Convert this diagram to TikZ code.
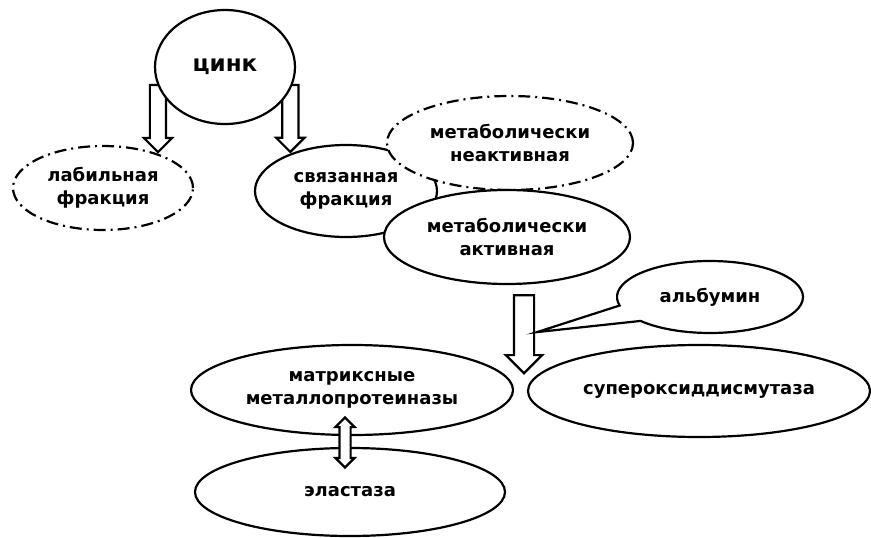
\documentclass[tikz,border=0pt]{standalone}
\usepackage{fontspec}
\setmainfont{DejaVu Sans}
\usetikzlibrary{shapes.geometric, shapes.arrows, shapes.callouts, calc}

\begin{document}
\begin{tikzpicture}[x=1pt, y=-1pt,
    oval/.style={ellipse, draw=black, fill=white, line width=2.2pt, inner sep=0pt, align=center, font=\fontsize{18}{23}\selectfont\bfseries},
    dashoval/.style={oval, dash pattern=on 12pt off 5pt on 2pt off 5pt},
    fatarrow/.style={single arrow, draw=black, fill=white, line width=2.2pt, inner xsep=0pt, single arrow head indent=0pt},
    twoarrow/.style={double arrow, draw=black, fill=white, line width=2.2pt, inner xsep=0pt, double arrow head indent=0pt}
]
\useasboundingbox (0,0) rectangle (871,538);

\node[dashoval, minimum width=180pt, minimum height=84pt] (labile) at (103,188) {лабильная\\фракция};
\node[oval, minimum width=182pt, minimum height=92pt] (bound) at (346,191) {связанная\\фракция};

\node[fatarrow, rotate=-90, anchor=tip, inner ysep=7pt, minimum height=67pt, minimum width=26pt, single arrow head extend=6pt] (tolabile) at (labile.32) {};
\node[fatarrow, rotate=-90, anchor=tip, inner ysep=7pt, minimum height=67pt, minimum width=26pt, single arrow head extend=6pt] (tobound) at (bound.146) {};

\node[oval, minimum width=140pt, minimum height=114pt, font=\fontsize{23}{27}\selectfont\bfseries] (zinc) at (225,67) {цинк};

\node[dashoval, minimum width=246pt, minimum height=94pt] (inactive) at (510,143) {метаболически\\неактивная};
\node[oval, minimum width=246pt, minimum height=94pt] (active) at (507,237) {метаболически\\активная};

\node[fatarrow, rotate=-90, anchor=tail, inner ysep=9pt, minimum height=78pt, minimum width=34pt, single arrow head extend=8pt] (down) at ($(active.south)+(17,9)$) {};
\coordinate (ptr) at ($(down.tail)+(13,38)$);
\node[oval, ellipse callout, minimum width=186pt, minimum height=72pt, callout pointer arc=28, callout absolute pointer={(ptr)}] (albumin) at (710,297) {альбумин};

\node[oval, minimum width=322pt, minimum height=90pt] (mmp) at (352,390) {матриксные\\металлопротеиназы};
\node[oval, minimum width=310pt, minimum height=88pt] (elastase) at (350,492) {эластаза};
\node[oval, minimum width=342pt, minimum height=92pt] (sod) at (699,391) {супероксиддисмутаза};

\node[twoarrow, rotate=90, inner ysep=4.5pt, minimum height=50pt, minimum width=17pt, double arrow head extend=4pt] (link) at ($(mmp.south)!0.5!(elastase.north)+(-6,1)$) {};
\end{tikzpicture}
\end{document}
